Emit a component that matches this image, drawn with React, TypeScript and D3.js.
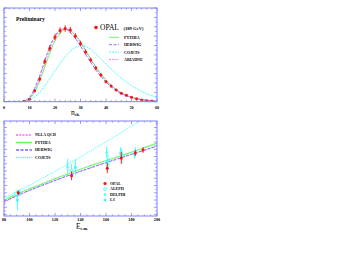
import React from "react";
import * as d3 from "d3";

// ---------- top panel data: charged multiplicity distribution (189 GeV) ----------
const nchTicks = [0, 10, 20, 30, 40, 50, 60];
const opalN = [8, 10, 12, 14, 16, 18, 20, 22, 24, 26, 28, 30, 32, 34, 36, 38, 40, 42, 44, 46, 48, 50, 52, 54, 56, 58];
const opalP = [0.6, 2.6, 11.8, 24.2, 42.8, 57, 69, 76, 78, 76.5, 70, 62, 53, 44.5, 36, 28.5, 21.3, 16.7, 12.5, 9, 6.9, 4.7, 3.2, 1.8, 1.1, 0.7];
const opalPErr = [0.3, 0.8, 1.8, 2.5, 3.2, 3.4, 3.5, 3.5, 3.5, 3.4, 3.2, 3, 2.7, 2.4, 2.1, 1.8, 1.5, 1.3, 1.1, 0.9, 0.8, 0.6, 0.5, 0.4, 0.3, 0.3];
const mcN = [0, 2, 4, 6, 8, 10, 12, 14, 16, 18, 20, 22, 24, 26, 28, 30, 32, 34, 36, 38, 40, 42, 44, 46, 48, 50, 52, 54, 56, 58, 60];
const pythiaP = [0, 0, 0, 0.1, 0.5, 3, 10, 22, 37, 52, 65, 73, 77, 76, 71, 64, 55, 46, 37.5, 30, 23, 17.5, 13, 9.5, 6.8, 4.8, 3.3, 2.2, 1.5, 1, 0.6];
const herwigP = [0, 0, 0, 0.2, 1, 4.5, 14, 28, 44, 59, 70, 76.5, 77.5, 74, 67.5, 59.5, 50.5, 42, 34, 27, 21, 16, 12, 8.8, 6.3, 4.4, 3, 2, 1.3, 0.9, 0.6];
const cojetsP = [0, 0, 0, 0.1, 0.5, 2, 5, 10, 17, 25, 33, 41, 48, 54, 58, 60, 59, 56, 51, 46, 40, 35, 30, 25, 21, 17, 14, 11, 8.5, 6.5, 5];
const ariadneP = [0, 0, 0, 0.1, 0.7, 3.5, 12, 25, 41, 56, 68, 75.5, 78, 76, 70.5, 63, 54, 45, 36.5, 29, 22.5, 17, 12.8, 9.3, 6.7, 4.7, 3.2, 2.1, 1.4, 0.9, 0.6];
const topLegend = ["PYTHIA", "HERWIG", "COJETS", "ARIADNE"];

// ---------- bottom panel data: mean multiplicity vs Ecm ----------
const ecmTicks = [80, 100, 120, 140, 160, 180, 200];
const curveE = [80, 90, 100, 110, 120, 130, 140, 150, 160, 170, 180, 190, 200];
const nllaN = [19.7, 20.55, 21.3, 22.0, 22.7, 23.35, 24.0, 24.6, 25.2, 25.8, 26.35, 26.9, 27.55];
const pythiaN = [20.0, 20.8, 21.55, 22.25, 22.95, 23.6, 24.25, 24.85, 25.45, 26.0, 26.6, 27.2, 27.85];
const herwigN = [19.8, 20.6, 21.35, 22.05, 22.7, 23.35, 23.95, 24.55, 25.15, 25.7, 26.3, 26.85, 27.45];
const cojetsN = [20.3, 21.15, 22.05, 23.0, 23.95, 24.95, 25.95, 27.0, 28.05, 29.1, 30.2, 31.3, 32.4];
const bottomLegend = ["NLLA QCD", "PYTHIA", "HERWIG", "COJETS"];

const opalE = [91.2, 133, 161, 172, 183, 189];
const opalMean = [21.0, 23.35, 24.4, 25.8, 26.5, 26.9];
const opalMeanErr = [0.3, 0.6, 0.7, 0.8, 0.4, 0.4];
const alephE = [89.5, 133, 161, 172, 183];
const alephMean = [20.85, 24.1, 24.9, 26.3, 26.5];
const alephErr = [0.4, 0.9, 0.8, 0.8, 0.5];
const delphiE = [92.5, 130, 160.5, 172.5, 183];
const delphiMean = [21.0, 24.6, 26.6, 26.0, 26.8];
const delphiErr = [0.5, 1.1, 0.8, 0.9, 0.5];
const l3E = [90.5, 136, 161.5, 171.5, 182.5];
const l3Mean = [20.0, 24.5, 25.4, 26.5, 26.3];
const l3Err = [1.4, 1.1, 0.9, 0.8, 0.6];
const expLegend = ["OPAL", "ALEPH", "DELPHI", "L3"];

const AX = "#8080ff";
const RED = "#ff1010";
const CYAN = "#33ffff";
const GREEN = "#66ff66";
const BLUE = "#6a6aff";
const MAG = "#ff66ff";
const FONT = "'Liberation Serif', 'DejaVu Serif', serif";

function Frame({ x, top, bottom, xTicks, xMinor, yMajor, yMinor }: any) {
  const [x0, x1] = x.range();
  const [y0, y1] = [top, bottom];
  const els: any[] = [];
  xMinor.forEach((t: number, i: number) => {
    const px = x(t);
    const major = xTicks.includes(t);
    const L = major ? 3 : 1.6;
    els.push(<line key={"xb" + i} x1={px} x2={px} y1={y1} y2={y1 - L} />);
    els.push(<line key={"xt" + i} x1={px} x2={px} y1={y0} y2={y0 + L} />);
  });
  yMinor.forEach((py: number, i: number) => {
    const major = yMajor.includes(i);
    const L = major ? 3 : 1.6;
    els.push(<line key={"yl" + i} x1={x0} x2={x0 + L} y1={py} y2={py} />);
    els.push(<line key={"yr" + i} x1={x1} x2={x1 - L} y1={py} y2={py} />);
  });
  return (
    <g stroke={AX} strokeWidth={0.8} fill="none">
      <rect x={x0} y={y0} width={x1 - x0} height={y1 - y0} strokeWidth={1} />
      {els}
    </g>
  );
}

export default function App() {
  // top panel
  const xT = d3.scaleLinear().domain([0, 60]).range([4, 157]);
  const yT = d3.scaleLinear().domain([0, 100]).range([101.7, 8]);
  const lineT = (vals: number[]) =>
    d3.line<number>().x((_, i) => xT(mcN[i])).y((v) => yT(v)).curve(d3.curveMonotoneX)(vals) as string;

  // bottom panel
  const xB = d3.scaleLinear().domain([80, 200]).range([4, 157]);
  const yB = d3.scaleLinear().domain([17.8, 30.9]).range([216, 121]);
  const lineB = (vals: number[]) =>
    d3.line<number>().x((_, i) => xB(curveE[i])).y((v) => yB(v)).curve(d3.curveMonotoneX)(vals) as string;

  const topMinor = d3.range(0, 61, 2);
  const topYMinor = d3.range(0, 21).map((i) => yT(i * 5));
  const topYMajor = d3.range(0, 21, 2);
  const botMinor = d3.range(80, 201, 5);
  const botYMinor = d3.range(0, 27).map((i) => yB(18 + i * 0.5)).filter((v) => v >= 121 && v <= 216);
  const botYMajor = d3.range(0, 27, 2);

  const topCurves = [
    { vals: pythiaP, color: GREEN, dash: undefined, w: 1 },
    { vals: herwigP, color: BLUE, dash: "3,1.5", w: 0.9 },
    { vals: cojetsP, color: CYAN, dash: "2,1", w: 0.9 },
    { vals: ariadneP, color: MAG, dash: "2,1.2", w: 0.9 },
  ];
  const botCurves = [
    { vals: nllaN, color: MAG, dash: "2,1.2", w: 0.9 },
    { vals: pythiaN, color: GREEN, dash: undefined, w: 1.1 },
    { vals: herwigN, color: BLUE, dash: "3,1.5", w: 0.9 },
    { vals: cojetsN, color: CYAN, dash: "1.2,1", w: 0.9 },
  ];

  const tickStyle: any = { fontFamily: FONT, fontSize: 4.2, fontWeight: "bold", fill: "#000" };
  const legStyle: any = { fontFamily: FONT, fontSize: 4, fontWeight: "bold", fill: "#000" };

  const cyanSets = [
    { E: alephE, v: alephMean, e: alephErr, shape: "circle" },
    { E: delphiE, v: delphiMean, e: delphiErr, shape: "tri" },
    { E: l3E, v: l3Mean, e: l3Err, shape: "square" },
  ];
  const marker = (shape: string, cx: number, cy: number, key: string) => {
    if (shape === "circle")
      return <circle key={key} cx={cx} cy={cy} r={1.4} fill="#fff" stroke={CYAN} strokeWidth={0.8} />;
    if (shape === "tri")
      return <path key={key} d={`M${cx},${cy - 1.7}L${cx + 1.6},${cy + 1.1}L${cx - 1.6},${cy + 1.1}Z`} fill={CYAN} />;
    if (shape === "square")
      return <rect key={key} x={cx - 1.3} y={cy - 1.3} width={2.6} height={2.6} fill={CYAN} />;
    return <circle key={key} cx={cx} cy={cy} r={1.6} fill={RED} />;
  };

  return (
    <svg width={346} height={278} style={{ position: "absolute", left: 0, top: 0, background: "#fff" }}>
      <defs>
        <clipPath id="clipT"><rect x={4} y={8} width={153} height={93.7} /></clipPath>
        <clipPath id="clipB"><rect x={4} y={121} width={153} height={95} /></clipPath>
      </defs>

      {/* ---------- top panel ---------- */}
      <g clipPath="url(#clipT)">
        {topCurves.map((c, i) => (
          <path key={i} d={lineT(c.vals)} fill="none" stroke={c.color} strokeWidth={c.w} strokeDasharray={c.dash} />
        ))}
        {opalN.map((n, i) => (
          <g key={i}>
            <line x1={xT(n)} x2={xT(n)} y1={yT(opalP[i] - opalPErr[i])} y2={yT(opalP[i] + opalPErr[i])} stroke={RED} strokeWidth={0.9} />
            <circle cx={xT(n)} cy={yT(opalP[i])} r={1.5} fill={RED} />
          </g>
        ))}
      </g>
      <Frame x={xT} top={8} bottom={101.7} xTicks={nchTicks} xMinor={topMinor} yMajor={topYMajor} yMinor={topYMinor} />
      {nchTicks.map((t) => (
        <text key={t} x={xT(t)} y={108.5} textAnchor="middle" style={tickStyle}>{t}</text>
      ))}
      <text x={71} y={114.5} style={{ fontFamily: FONT, fontSize: 7.5, fill: "#000" }}>
        n<tspan dy={1.2} fontSize={4.2} fontWeight="bold">ch.</tspan>
      </text>
      <text x={16} y={21} style={{ fontFamily: FONT, fontSize: 5.6, fontWeight: "bold", fill: "#000" }}>Preliminary</text>

      <circle cx={96} cy={27.5} r={1.8} fill={RED} />
      <text x={100} y={30} style={{ fontFamily: FONT, fontSize: 7.5, fill: "#000" }}>OPAL</text>
      <text x={123.5} y={30} style={{ fontFamily: FONT, fontSize: 4.6, fontWeight: "bold", fill: "#000" }}>(189 GeV)</text>
      {topLegend.map((lab, i) => {
        const c = topCurves[i];
        const yy = 37.3 + i * 7.4;
        return (
          <g key={lab}>
            <line x1={109} x2={119} y1={yy} y2={yy} stroke={c.color} strokeWidth={c.w} strokeDasharray={c.dash} />
            <text x={124} y={yy + 1.4} style={legStyle}>{lab}</text>
          </g>
        );
      })}

      {/* ---------- bottom panel ---------- */}
      <g clipPath="url(#clipB)">
        {botCurves.map((c, i) => (
          <path key={i} d={lineB(c.vals)} fill="none" stroke={c.color} strokeWidth={c.w} strokeDasharray={c.dash} />
        ))}
        {cyanSets.map((s, si) =>
          s.E.map((E, i) => (
            <g key={si + "-" + i}>
              <line x1={xB(E)} x2={xB(E)} y1={yB(s.v[i] - s.e[i])} y2={yB(s.v[i] + s.e[i])} stroke={CYAN} strokeWidth={0.9} />
              {marker(s.shape, xB(E), yB(s.v[i]), "m")}
            </g>
          ))
        )}
        {opalE.map((E, i) => (
          <g key={"o" + i}>
            <line x1={xB(E)} x2={xB(E)} y1={yB(opalMean[i] - opalMeanErr[i])} y2={yB(opalMean[i] + opalMeanErr[i])} stroke={RED} strokeWidth={0.9} />
            <circle cx={xB(E)} cy={yB(opalMean[i])} r={1.5} fill={RED} />
          </g>
        ))}
      </g>
      <Frame x={xB} top={121} bottom={216} xTicks={ecmTicks} xMinor={botMinor} yMajor={botYMajor} yMinor={botYMinor} />
      {ecmTicks.map((t) => (
        <text key={t} x={xB(t)} y={221} textAnchor="middle" style={tickStyle}>{t}</text>
      ))}
      <text x={76} y={229} style={{ fontFamily: FONT, fontSize: 7.5, fill: "#000" }}>
        E<tspan dy={1.2} fontSize={4.2} fontWeight="bold">c.m.</tspan>
      </text>

      {bottomLegend.map((lab, i) => {
        const c = botCurves[i];
        const yy = 135 + i * 7.5;
        return (
          <g key={lab}>
            <line x1={16} x2={32} y1={yy} y2={yy} stroke={c.color} strokeWidth={c.w + 0.4} strokeDasharray={c.dash} />
            <text x={35} y={yy + 1.4} style={legStyle}>{lab}</text>
          </g>
        );
      })}
      {expLegend.map((lab, i) => {
        const yy = 183.5 + i * 5.5;
        const shape = i === 0 ? "opal" : cyanSets[i - 1].shape;
        return (
          <g key={lab}>
            {marker(shape, 105, yy, "lm" + i)}
            <text x={110} y={yy + 1.4} style={legStyle}>{lab}</text>
          </g>
        );
      })}
    </svg>
  );
}
